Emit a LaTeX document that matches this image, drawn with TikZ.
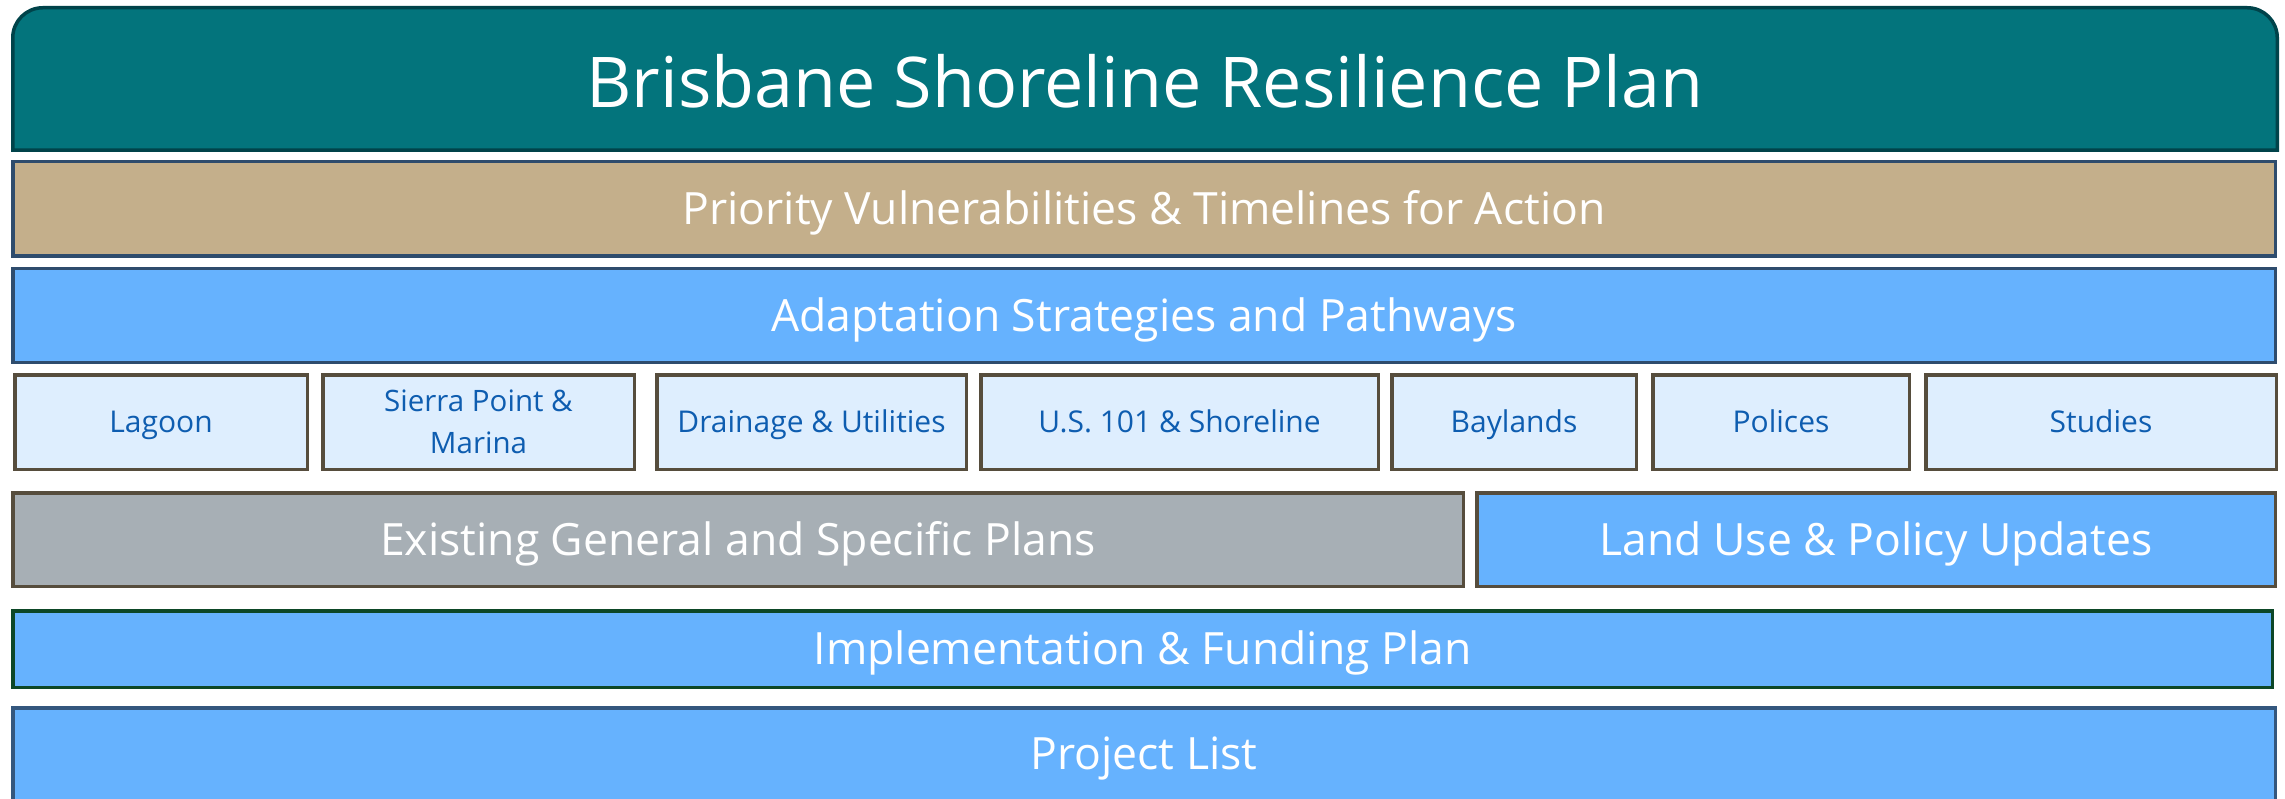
\documentclass[tikz,border=0pt]{standalone}
\usepackage{fontspec}
\setmainfont{Open Sans}[Ligatures=NoCommon]
\definecolor{teal1}{HTML}{03747C}
\definecolor{teal2}{HTML}{00434A}
\definecolor{tan1}{HTML}{C4AF8B}
\definecolor{navyb}{HTML}{2E4C6D}
\definecolor{sky}{HTML}{66B2FE}
\definecolor{pale}{HTML}{DEEEFE}
\definecolor{brownb}{HTML}{564D3D}
\definecolor{greyf}{HTML}{A7AFB5}
\definecolor{greenb}{HTML}{0D4727}
\definecolor{projb}{HTML}{34577E}
\definecolor{smalltxt}{HTML}{0E5DB0}
\begin{document}
\begin{tikzpicture}[x=1pt,y=-1pt,
  band/.style={draw, line width=3.5pt, rectangle, inner sep=0pt, text=white,
    font=\fontsize{44.5}{50}\selectfont, text height=31.8pt, text depth=0pt},
  item/.style={draw=brownb, fill=pale, line width=3.5pt, rectangle, inner sep=0pt,
    text=smalltxt, font=\fontsize{30}{42}\selectfont, minimum height=94.5pt,
    text height=21.4pt, text depth=0pt},
  itemtwo/.style={draw=brownb, fill=pale, line width=3.5pt, rectangle, inner sep=0pt,
    text=smalltxt, font=\fontsize{29.5}{42}\selectfont, minimum height=94.5pt, align=center},
  titletxt/.style={text=white, inner sep=0pt, font=\fontsize{70}{80}\selectfont,
    text height=50pt, text depth=0pt}]
\useasboundingbox (0,0) rectangle (2285,799);
% title
\draw[fill=teal1, draw=teal2, line width=3.5pt]
  (12.75,150.25) [rounded corners=30pt] -- (12.75,7.75) -- (2277.25,7.75) [sharp corners] -- (2277.25,150.25) -- cycle;
\node[titletxt] (title) at (1145,82.5) {Brisbane Shoreline Resilience Plan};
% bands
\node[band, fill=tan1, draw=navyb, minimum width=2262.5pt, minimum height=94.5pt] (prio) at (1144,209) {Priority Vulnerabilities \& Timelines for Action};
\node[band, fill=sky, draw=navyb, minimum width=2262.5pt, minimum height=93.5pt] (adapt) at (1144,315.5) {Adaptation Strategies and Pathways};
% items
\node[item, minimum width=292.5pt] (lagoon) at (161,422) {Lagoon};
\node[itemtwo, minimum width=311.5pt] (sierra) at (478.5,422) {Sierra Point \&\\Marina};
\node[item, minimum width=309.5pt] (drain) at (811.5,422) {Drainage \& Utilities};
\node[item, minimum width=397.5pt] (us101) at (1179.5,422) {U.S. 101 \& Shoreline};
\node[item, minimum width=244.5pt] (bayl) at (1514,422) {Baylands};
\node[item, minimum width=256.5pt] (polic) at (1781,422) {Polices};
\node[item, minimum width=350.5pt] (stud) at (2101,422) {Studies};
% lower bands
\node[band, fill=greyf, draw=brownb, minimum width=1450.5pt, minimum height=93.5pt] (exist) at (738,539.5) {Existing General and Specific Plans};
\node[band, fill=sky, draw=brownb, minimum width=798.5pt, minimum height=93.5pt] (land) at (1876,539.5) {Land Use \& Policy Updates};
\node[band, fill=sky, draw=greenb, minimum width=2259.5pt, minimum height=76.5pt] (impl) at (1142.5,649) {Implementation \& Funding Plan};
\node[band, fill=sky, draw=projb, minimum width=2262.5pt, minimum height=92.5pt] (proj) at (1144,754) {Project List};
\end{tikzpicture}
\end{document}
